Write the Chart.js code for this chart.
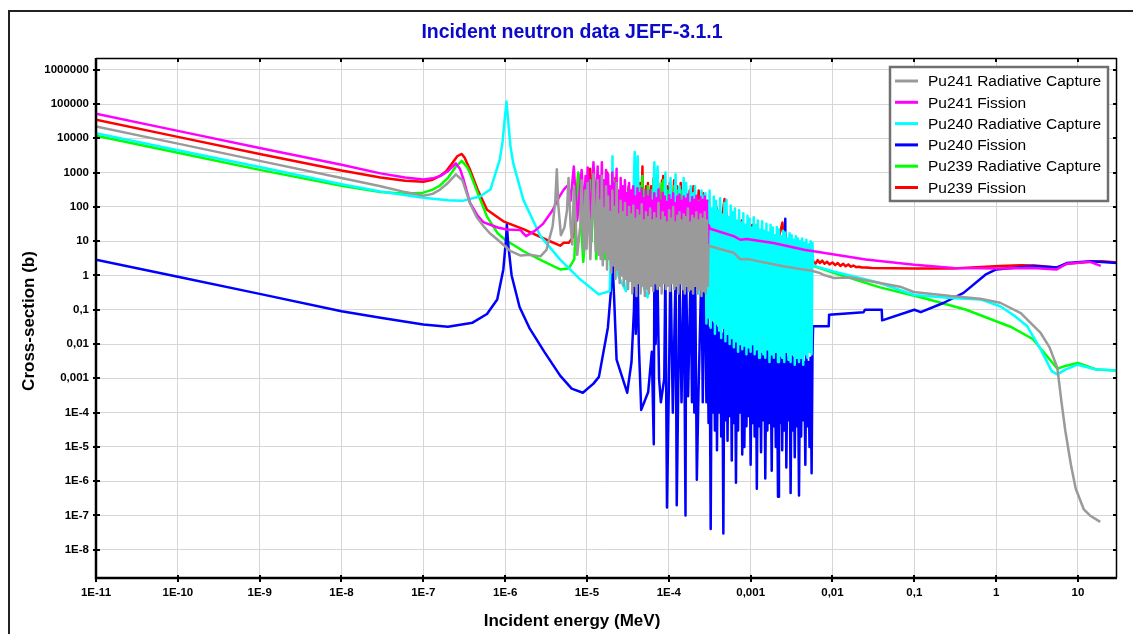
<!DOCTYPE html>
<html>
<head>
<meta charset="utf-8">
<script src="https://cdn.jsdelivr.net/npm/chart.js@4.4.1/dist/chart.umd.min.js"></script>
<style>
  html, body { margin: 0; padding: 0; background: #fff; overflow: hidden; }
  #wrap { position: relative; width: 1133px; height: 634px; }
</style>
</head>
<body>
<div id="wrap"><canvas id="xs"></canvas></div>
<script>
// Incident neutron data JEFF-3.1.1 - cross sections (b) vs energy (MeV)

const chartTitle = 'Incident neutron data JEFF-3.1.1';
const xTitle = 'Incident energy (MeV)';
const yTitle = 'Cross-section (b)';
const xTicks = [1e-11, 1e-10, 1e-9, 1e-8, 1e-7, 1e-6, 1e-5, 1e-4, 1e-3, 1e-2, 1e-1, 1, 10];
const yTicks = [1e-8, 1e-7, 1e-6, 1e-5, 1e-4, 1e-3, 1e-2, 1e-1, 1, 10, 100, 1000, 10000, 100000, 1000000];
const seriesLabels = ['Pu241 Radiative Capture', 'Pu241 Fission', 'Pu240 Radiative Capture',
  'Pu240 Fission', 'Pu239 Radiative Capture', 'Pu239 Fission'];
const seriesColors = ['#9a9a9a', '#ff00ff', '#00ffff', '#0000ff', '#00ff00', '#ff0000'];

// shared energy grid, Pu241 resolved resonances (13.5 eV - 300 eV)
const gridA = [1.35e-5, 1.39e-5, 1.43e-5, 1.47e-5, 1.52e-5, 1.56e-5, 1.61e-5, 1.66e-5, 1.71e-5, 1.76e-5,
  1.81e-5, 1.87e-5, 1.92e-5, 1.98e-5, 2.04e-5, 2.10e-5, 2.16e-5, 2.23e-5, 2.30e-5, 2.36e-5,
  2.44e-5, 2.51e-5, 2.58e-5, 2.66e-5, 2.74e-5, 2.82e-5, 2.91e-5, 3.00e-5, 3.09e-5, 3.18e-5,
  3.27e-5, 3.37e-5, 3.47e-5, 3.58e-5, 3.68e-5, 3.79e-5, 3.91e-5, 4.02e-5, 4.14e-5, 4.27e-5,
  4.40e-5, 4.53e-5, 4.66e-5, 4.80e-5, 4.95e-5, 5.10e-5, 5.25e-5, 5.41e-5, 5.57e-5, 5.73e-5,
  5.91e-5, 6.08e-5, 6.27e-5, 6.45e-5, 6.65e-5, 6.85e-5, 7.05e-5, 7.26e-5, 7.48e-5, 7.71e-5,
  7.94e-5, 8.18e-5, 8.42e-5, 8.67e-5, 8.93e-5, 9.20e-5, 9.48e-5, 9.76e-5, 1.01e-4, 1.04e-4,
  1.07e-4, 1.10e-4, 1.13e-4, 1.17e-4, 1.20e-4, 1.24e-4, 1.27e-4, 1.31e-4, 1.35e-4, 1.39e-4,
  1.43e-4, 1.48e-4, 1.52e-4, 1.57e-4, 1.61e-4, 1.66e-4, 1.71e-4, 1.76e-4, 1.82e-4, 1.87e-4,
  1.93e-4, 1.98e-4, 2.04e-4, 2.10e-4, 2.17e-4, 2.23e-4, 2.30e-4, 2.37e-4, 2.44e-4, 2.51e-4,
  2.59e-4, 2.67e-4, 2.75e-4, 2.83e-4, 2.91e-4, 3.00e-4];

// shared energy grid, Pu240 resolved resonances (280 eV - 5.7 keV)
const gridB = [2.80e-4, 2.88e-4, 2.97e-4, 3.06e-4, 3.15e-4, 3.25e-4, 3.35e-4, 3.45e-4, 3.55e-4, 3.66e-4,
  3.77e-4, 3.88e-4, 4.00e-4, 4.12e-4, 4.24e-4, 4.37e-4, 4.50e-4, 4.64e-4, 4.78e-4, 4.92e-4,
  5.07e-4, 5.22e-4, 5.38e-4, 5.54e-4, 5.71e-4, 5.88e-4, 6.06e-4, 6.24e-4, 6.43e-4, 6.62e-4,
  6.82e-4, 7.02e-4, 7.23e-4, 7.45e-4, 7.67e-4, 7.90e-4, 8.14e-4, 8.38e-4, 8.63e-4, 8.89e-4,
  9.16e-4, 9.43e-4, 9.71e-4, 1.00e-3, 1.03e-3, 1.06e-3, 1.09e-3, 1.12e-3, 1.16e-3, 1.19e-3,
  1.23e-3, 1.27e-3, 1.30e-3, 1.34e-3, 1.38e-3, 1.43e-3, 1.47e-3, 1.51e-3, 1.56e-3, 1.60e-3,
  1.65e-3, 1.70e-3, 1.75e-3, 1.81e-3, 1.86e-3, 1.92e-3, 1.97e-3, 2.03e-3, 2.09e-3, 2.16e-3,
  2.22e-3, 2.29e-3, 2.36e-3, 2.43e-3, 2.50e-3, 2.58e-3, 2.65e-3, 2.73e-3, 2.82e-3, 2.90e-3,
  2.99e-3, 3.08e-3, 3.17e-3, 3.27e-3, 3.36e-3, 3.46e-3, 3.57e-3, 3.67e-3, 3.78e-3, 3.90e-3,
  4.02e-3, 4.14e-3, 4.26e-3, 4.39e-3, 4.52e-3, 4.66e-3, 4.80e-3, 4.94e-3, 5.09e-3, 5.24e-3,
  5.40e-3, 5.56e-3, 5.70e-3];

// Pu239 resonance energies (6 eV - 5 keV)
const pu239ResE = [6.0e-6, 7.0e-6, 7.82e-6, 9.0e-6, 1.093e-5, 1.14e-5, 1.189e-5, 1.3e-5, 1.43e-5, 1.45e-5,
  1.468e-5, 1.5e-5, 1.546e-5, 1.65e-5, 1.766e-5, 1.95e-5, 2.229e-5, 2.4e-5, 2.62e-5, 2.9e-5,
  3.23e-5, 3.4e-5, 3.55e-5, 3.85e-5, 4.14e-5, 4.3e-5, 4.45e-5, 4.6e-5, 4.76e-5, 4.88e-5,
  4.97e-5, 5.1e-5, 5.26e-5, 5.4e-5, 5.56e-5, 5.65e-5, 5.74e-5, 5.9e-5, 6.09e-5, 6.3e-5,
  6.54e-5, 7.0e-5, 7.4e-5, 7.8e-5, 8.26e-5, 8.4e-5, 8.54e-5, 8.8e-5, 9.07e-5, 9.3e-5,
  9.53e-5, 1.0e-4, 1.03e-4, 1.1e-4, 1.16e-4, 1.22e-4, 1.26e-4, 1.33e-4, 1.4e-4, 1.48e-4,
  1.58e-4, 1.68e-4, 1.8e-4, 1.9e-4, 2.0e-4, 2.15e-4, 2.32e-4, 2.45e-4, 2.62e-4, 2.8e-4,
  3.0e-4, 3.3e-4, 3.8e-4, 4.2e-4, 4.8e-4, 5.4e-4, 6.0e-4, 6.8e-4, 7.8e-4, 9.0e-4,
  1.05e-3, 1.2e-3, 1.4e-3, 1.6e-3, 1.85e-3, 2.1e-3, 2.45e-3, 2.6e-3, 3.5e-3, 5.0e-3];

// ---- Pu241 radiative capture (gray)
const grayLoE = [1e-11, 1e-10, 1e-9, 1e-8, 3e-8, 6e-8, 1e-7, 1.3e-7, 1.6e-7, 2.0e-7,
  2.5e-7, 3.0e-7, 3.7e-7, 4.5e-7, 5.4e-7, 6.5e-7, 8.1e-7, 1.17e-6, 1.55e-6, 2.0e-6,
  2.7e-6, 3.2e-6, 3.8e-6, 4.1e-6, 4.28e-6, 4.45e-6, 4.8e-6, 5.3e-6, 5.7e-6, 5.95e-6,
  6.3e-6, 6.6e-6, 6.93e-6, 7.6e-6, 8.3e-6, 8.6e-6, 9.2e-6, 9.57e-6, 9.9e-6, 1.02e-5,
  1.1e-5, 1.2e-5, 1.28e-5];
const grayLoXS = [22000, 7000, 2200, 700, 400, 270, 210, 240, 320, 500,
  890, 600, 130, 50, 28, 17, 11, 5.1, 3.8, 4,
  3.6, 5.6, 27, 150, 1250, 120, 15, 25, 80, 700,
  30, 8, 400, 4, 30, 600, 5, 300, 6, 500,
  3, 900, 5];
const grayA = [600, 4, 150, 3, 800, 2, 90, 5, 400, 1.5,
  200, 3, 70, 1.2, 300, 2, 100, 0.8, 500, 1.5,
  60, 0.6, 150, 1, 70, 0.5, 130, 0.8, 50, 0.4,
  100, 0.7, 60, 0.3, 110, 0.5, 45, 0.25, 80, 0.6,
  55, 0.3, 120, 0.5, 40, 0.25, 70, 0.4, 50, 0.3,
  90, 0.5, 40, 0.35, 65, 0.6, 45, 0.4, 130, 0.5,
  40, 0.3, 70, 0.6, 50, 0.4, 35, 0.5, 80, 0.35,
  45, 0.6, 100, 0.4, 35, 0.5, 55, 0.3, 70, 0.6,
  40, 0.4, 60, 0.3, 50, 0.5, 90, 0.35, 35, 0.4,
  55, 0.3, 45, 0.5, 70, 0.3, 40, 0.4, 60, 0.25,
  45, 0.35, 70, 0.3, 40, 0.5];
const grayHiE = [3.05e-4, 3.2e-4, 6.2e-4, 7.5e-4, 9.3e-4, 2.5e-3, 4.0e-3, 5.4e-3, 7.1e-3, 7.7e-3,
  1.03e-2, 1.65e-2, 3.8e-2, 6.7e-2, 9.8e-2, 0.28, 0.64, 1.12, 2.0, 3.5,
  4.5, 5.6, 6.3, 7.0, 8.2, 9.4, 11.8, 14, 18.7];
const grayHiXS = [7.5, 7.1, 4.6, 2.95, 3.0, 1.86, 1.55, 1.4, 1.17, 1.05,
  0.85, 0.87, 0.6, 0.47, 0.33, 0.25, 0.21, 0.16, 0.08, 0.021,
  0.008, 0.002, 2e-4, 3e-5, 3e-6, 6e-7, 1.5e-7, 1e-7, 6.5e-8];

// ---- Pu241 fission (magenta)
const magLoE = [1e-11, 1e-10, 1e-9, 1e-8, 3e-8, 6e-8, 1e-7, 1.3e-7, 1.6e-7, 2.0e-7,
  2.5e-7, 2.8e-7, 3.1e-7, 3.7e-7, 4.6e-7, 5.4e-7, 8.1e-7, 1.05e-6, 1.55e-6, 1.7e-6,
  1.8e-6, 2.3e-6, 2.9e-6, 3.8e-6, 4.6e-6, 5.2e-6, 5.9e-6, 6.3e-6, 6.9e-6, 7.6e-6,
  8.6e-6, 9.2e-6, 9.6e-6, 9.9e-6, 1.02e-5, 1.1e-5, 1.2e-5, 1.28e-5];
const magLoXS = [52000, 16500, 5200, 1700, 950, 720, 630, 680, 790, 1100,
  1850, 1300, 630, 135, 56, 36, 25, 22, 21, 16,
  14, 20, 32, 80, 200, 320, 440, 150, 1500, 40,
  1200, 60, 800, 100, 1400, 50, 2000, 80];
const magA = [1500, 20, 800, 15, 2000, 10, 600, 20, 1200, 8,
  900, 15, 400, 6, 1000, 12, 500, 5, 1300, 10,
  300, 5, 700, 8, 400, 4, 600, 6, 250, 4,
  500, 6, 300, 3, 400, 5, 200, 3, 350, 5,
  250, 3, 350, 5, 180, 3, 300, 4, 200, 3,
  300, 5, 150, 3, 250, 5, 180, 4, 320, 5,
  150, 3, 260, 5, 200, 4, 140, 5, 220, 3,
  160, 5, 250, 4, 130, 5, 200, 3, 230, 5,
  150, 4, 200, 3, 170, 5, 230, 3, 130, 4,
  190, 3, 160, 5, 210, 3, 140, 4, 190, 3,
  160, 4, 200, 3, 150, 5];
const magHiE = [3.05e-4, 3.2e-4, 6.2e-4, 7.5e-4, 8.9e-4, 1.9e-3, 4.5e-3, 7.7e-3, 2.55e-2, 0.1,
  0.3, 1.1, 2.8, 5.5, 7.3, 14, 19];
const magHiXS = [30, 23, 14, 11, 11.5, 8.9, 5.6, 4.6, 2.9, 2.05,
  1.65, 1.6, 1.65, 1.5, 2.2, 2.5, 1.9];

// ---- Pu240 radiative capture (cyan)
const cyanLoE = [1e-11, 1e-10, 1e-9, 1e-8, 3e-8, 1e-7, 2e-7, 3e-7, 4.9e-7, 6.6e-7,
  8.6e-7, 9.3e-7, 9.8e-7, 1.04e-6, 1.1e-6, 1.16e-6, 1.25e-6, 1.67e-6, 2.7e-6, 4.7e-6,
  8.3e-6, 1.4e-5, 1.9e-5, 2.0e-5, 2.05e-5, 2.1e-5, 2.4e-5, 3.0e-5, 3.6e-5, 3.83e-5,
  3.98e-5, 4.16e-5, 4.4e-5, 5.0e-5, 5.5e-5, 6.2e-5, 6.66e-5, 6.95e-5, 7.28e-5, 7.8e-5,
  8.4e-5, 9.08e-5, 9.6e-5, 1.05e-4, 1.12e-4, 1.21e-4, 1.28e-4, 1.35e-4, 1.43e-4, 1.52e-4,
  1.58e-4, 1.63e-4, 1.74e-4, 1.85e-4, 1.92e-4, 1.99e-4, 2.04e-4, 2.09e-4, 2.3e-4, 2.51e-4,
  2.62e-4, 2.7e-4];
const cyanLoXS = [14000, 4500, 1450, 460, 280, 185, 155, 150, 200, 320,
  2400, 8000, 30000, 118000, 25000, 6000, 1950, 160, 14, 2.9,
  0.76, 0.28, 0.35, 30, 3000, 30, 1.0, 0.35, 20, 4000,
  60, 3000, 5, 0.4, 0.23, 3, 2000, 20, 1500, 3,
  0.6, 1000, 1.5, 700, 1, 900, 0.8, 400, 0.7, 700,
  1.0, 500, 0.5, 400, 2, 250, 3, 400, 0.3, 300,
  1, 200];
const cyanB = [250, 0.04, 120, 0.06, 300, 0.03, 90, 0.05, 200, 0.02,
  150, 0.04, 80, 0.025, 180, 0.015, 60, 0.03, 130, 0.012,
  160, 0.02, 50, 0.01, 110, 0.015, 70, 0.008, 90, 0.012,
  40, 0.006, 80, 0.01, 35, 0.007, 65, 0.009, 30, 0.005,
  55, 0.008, 45, 0.006, 25, 0.01, 50, 0.005, 30, 0.007,
  40, 0.004, 22, 0.006, 38, 0.005, 20, 0.004, 32, 0.007,
  18, 0.003, 30, 0.005, 25, 0.004, 15, 0.006, 26, 0.003,
  22, 0.005, 14, 0.004, 20, 0.003, 18, 0.006, 12, 0.0035,
  17, 0.003, 15, 0.005, 11, 0.0025, 14, 0.004, 12, 0.003,
  10, 0.004, 12, 0.0025, 9, 0.005, 11, 0.004, 8, 0.006,
  10, 0.005, 9];
const cyanHiE = [5.8e-3, 7.0e-3, 1.03e-2, 3.8e-2, 0.1, 0.28, 0.64, 1.12, 1.7, 2.4,
  3.5, 4.8, 5.6, 7.0, 9.9, 16.7, 30];
const cyanHiXS = [2.0, 1.7, 1.3, 0.6, 0.27, 0.22, 0.2, 0.126, 0.065, 0.033,
  0.007, 0.0016, 0.0013, 0.0018, 0.0025, 0.0018, 0.0017];

// ---- Pu240 fission (blue)
const blueLoE = [1e-11, 1e-10, 1e-9, 1e-8, 3e-8, 1e-7, 2e-7, 4e-7, 6e-7, 8e-7,
  9.5e-7, 1.02e-6, 1.05e-6, 1.09e-6, 1.2e-6, 1.5e-6, 2.0e-6, 3.0e-6, 4.7e-6, 6.5e-6,
  8.9e-6, 1.2e-5, 1.4e-5, 1.8e-5, 1.95e-5, 2.05e-5, 2.15e-5, 2.3e-5, 3.1e-5, 3.5e-5,
  3.75e-5, 3.83e-5, 3.95e-5, 4.16e-5, 4.3e-5, 4.6e-5, 5.6e-5, 6.2e-5, 6.55e-5, 6.66e-5,
  6.9e-5, 7.28e-5, 7.6e-5, 8.0e-5, 8.8e-5, 9.08e-5, 9.5e-5, 1.0e-4, 1.05e-4, 1.12e-4,
  1.21e-4, 1.25e-4, 1.3e-4, 1.35e-4, 1.43e-4, 1.52e-4, 1.56e-4, 1.60e-4, 1.63e-4, 1.72e-4,
  1.85e-4, 1.92e-4, 1.99e-4, 2.05e-4, 2.1e-4, 2.2e-4, 2.3e-4, 2.51e-4, 2.6e-4, 2.7e-4];
const blueLoXS = [2.9, 0.92, 0.29, 0.09, 0.058, 0.037, 0.032, 0.042, 0.075, 0.2,
  1.5, 10, 30, 8, 1.0, 0.12, 0.028, 0.006, 1.2e-3, 5e-4,
  3.8e-4, 7e-4, 1.1e-3, 0.03, 0.3, 2.5, 0.2, 0.0035, 3.8e-4, 0.003,
  0.1, 1.5, 0.02, 1.2, 0.01, 1.2e-4, 4e-4, 0.006, 1.2e-5, 1.5,
  0.01, 0.8, 1e-3, 2e-4, 1e-3, 2, 1.7e-7, 5e-4, 1.5, 1e-4,
  1.2, 2e-7, 3e-4, 1, 2e-4, 2, 5e-4, 1e-7, 1, 3e-4,
  1.5, 2e-4, 0.8, 1e-4, 1, 1.1e-6, 3e-4, 2, 2e-4, 1.5];
const blueB = [0.05, 2e-4, 0.08, 5e-5, 0.03, 4e-8, 0.06, 1e-4, 0.04, 3e-5,
  0.07, 8e-6, 0.03, 1e-4, 0.05, 2e-5, 0.02, 3e-8, 0.04, 6e-5,
  0.03, 1.5e-5, 0.05, 8e-5, 0.02, 4e-6, 0.04, 5e-5, 0.015, 9e-7,
  0.03, 3e-5, 0.02, 1e-4, 0.012, 6e-6, 0.025, 1e-5, 0.01, 4e-5,
  0.02, 8e-5, 0.015, 3e-6, 0.01, 5e-5, 0.018, 2e-5, 0.008, 6e-7,
  0.015, 4e-5, 0.01, 7e-6, 0.012, 6e-5, 0.007, 1.2e-6, 0.012, 3e-5,
  0.006, 5e-5, 0.01, 2e-6, 0.008, 4e-5, 0.005, 1e-5, 0.009, 3.5e-7,
  0.007, 5e-5, 0.004, 8e-6, 0.008, 3e-5, 45, 2.5e-6, 0.004, 6e-5,
  0.007, 4.5e-7, 0.005, 3e-5, 0.004, 5e-6, 0.006, 4e-5, 0.004, 3.8e-7,
  0.005, 2e-5, 0.004, 6e-5, 0.003, 3e-6, 0.005, 4e-5, 0.003, 1e-5,
  0.004, 1.7e-6, 0.005];
const blueHiE = [5.8e-3, 9.0e-3, 9.1e-3, 2.4e-2, 2.5e-2, 4.0e-2, 4.05e-2, 0.1, 0.12, 0.23,
  0.4, 0.74, 1.0, 2.8, 5.5, 7.3, 14.4, 30];
const blueHiXS = [0.033, 0.033, 0.072, 0.085, 0.1, 0.1, 0.049, 0.1, 0.085, 0.16,
  0.31, 1.05, 1.5, 1.9, 1.7, 2.3, 2.6, 2.3];

// ---- Pu239 radiative capture (green)
const greenLoE = [1e-11, 1e-10, 1e-9, 1e-8, 3e-8, 6e-8, 1e-7, 1.3e-7, 1.6e-7, 2.0e-7,
  2.5e-7, 2.95e-7, 3.4e-7, 3.7e-7, 4.6e-7, 6.0e-7, 8.1e-7, 1.0e-6, 1.7e-6, 2.9e-6, 4.7e-6];
const greenLoXS = [12000, 3800, 1200, 410, 270, 240, 260, 320, 420, 700,
  1500, 2200, 1500, 1000, 260, 52, 17, 11, 5, 2.6, 1.5];
const greenRes = [1.6, 3, 1000, 2.5, 600, 10, 900, 3, 400, 30,
  500, 20, 200, 3, 400, 2, 600, 3, 250, 2.5,
  300, 8, 200, 3, 700, 10, 400, 10, 800, 15,
  300, 15, 250, 10, 400, 20, 300, 10, 300, 8,
  600, 4, 400, 6, 500, 10, 600, 8, 200, 6,
  300, 5, 300, 6, 400, 6, 300, 5, 300, 5,
  200, 5, 200, 5, 200, 4, 150, 4, 150, 4,
  100, 3, 60, 3, 80, 3, 30, 2, 25, 2,
  15, 2, 12, 1.5, 10, 1.5, 12, 2.0, 2.0, 2.0];
const greenHiE = [5.8e-3, 1.03e-2, 3.8e-2, 0.14, 0.43, 1.5, 2.8, 4.5, 5.6, 7.0, 9.9, 12, 17, 30];
const greenHiXS = [1.9, 1.2, 0.45, 0.21, 0.1, 0.032, 0.014, 0.0036, 0.0019, 0.0023, 0.0028, 0.0024, 0.0018, 0.0017];

// ---- Pu239 fission (red)
const redLoE = [1e-11, 1e-10, 1e-9, 1e-8, 3e-8, 6e-8, 1e-7, 1.3e-7, 1.6e-7, 1.9e-7,
  2.3e-7, 2.6e-7, 2.95e-7, 3.2e-7, 3.7e-7, 4.6e-7, 6.0e-7, 9.5e-7, 1.7e-6, 3.2e-6,
  4.7e-6, 5.2e-6];
const redLoXS = [35000, 11000, 3500, 1150, 720, 580, 540, 620, 800, 1100,
  2000, 3000, 3500, 2700, 1250, 320, 83, 38, 22, 11,
  7.4, 9];
const redRes = [9, 15, 900, 12, 1300, 40, 900, 15, 600, 60,
  400, 50, 300, 15, 1000, 12, 700, 15, 300, 15,
  400, 30, 300, 20, 600, 40, 500, 40, 1500, 50,
  300, 60, 400, 40, 500, 60, 300, 40, 400, 30,
  700, 20, 500, 30, 600, 40, 800, 30, 300, 30,
  400, 25, 500, 30, 600, 30, 400, 30, 500, 25,
  400, 25, 300, 25, 400, 20, 300, 20, 250, 20,
  150, 15, 100, 15, 170, 15, 50, 12, 40, 12,
  30, 10, 20, 8, 15, 8, 35, 5, 3.5, 3.0];
const redHiE = [5.8e-3, 6.2e-3, 6.6e-3, 7.0e-3, 7.5e-3, 8.0e-3, 8.6e-3, 9.2e-3, 1.0e-2, 1.08e-2,
  1.16e-2, 1.25e-2, 1.35e-2, 1.45e-2, 1.56e-2, 1.68e-2, 1.8e-2, 1.95e-2, 2.1e-2, 2.3e-2,
  2.6e-2, 3.0e-2, 0.1, 0.3, 1.1, 2.0, 3.0, 5.5, 7.3, 14,
  20, 30];
const redHiXS = [2.6, 2.2, 2.8, 2.3, 2.7, 2.2, 2.5, 2.1, 2.4, 2.0,
  2.3, 1.9, 2.2, 1.85, 2.1, 1.8, 1.95, 1.75, 1.8, 1.7,
  1.7, 1.65, 1.6, 1.6, 1.9, 2.0, 1.95, 1.7, 2.2, 2.5,
  2.6, 2.4];

// energy/value arrays -> {x, y}
function pts(es, vs) {
  return es.map((e, i) => ({ x: e, y: vs[i] }));
}

// tick label: 1000, 0,1, 0,01, 0,001, 1E-4 ...
function fmtTick(v) {
  const p = Math.round(Math.log10(v));
  if (p >= 0) return String(Math.round(Math.pow(10, p)));
  if (p >= -3) return '0,' + '0'.repeat(-p - 1) + '1';
  return '1E' + p;
}

const FONT = 'Arial, "Liberation Sans", sans-serif';

// title, axis titles, frame, ticks and boxed legend
const decorPlugin = {
  id: 'decor',
  afterDraw(chart) {
    const { ctx, chartArea: a, scales } = chart;
    ctx.save();

    // outer frame (top and left edges only are in view)
    ctx.strokeStyle = '#222';
    ctx.lineWidth = 2;
    ctx.beginPath();
    ctx.moveTo(9, 640);
    ctx.lineTo(9, 11);
    ctx.lineTo(1140, 11);
    ctx.stroke();

    // titles
    ctx.fillStyle = '#0a0ac8';
    ctx.font = 'bold 19.5px ' + FONT;
    ctx.textAlign = 'center';
    ctx.textBaseline = 'middle';
    ctx.fillText(chartTitle, 572, 33);

    ctx.fillStyle = '#000';
    ctx.font = 'bold 17px ' + FONT;
    ctx.fillText(xTitle, 572, 621);
    ctx.save();
    ctx.translate(29, (a.top + a.bottom) / 2 + 3);
    ctx.rotate(-Math.PI / 2);
    ctx.fillText(yTitle, 0, 0);
    ctx.restore();

    // plot frame
    ctx.strokeStyle = '#000';
    ctx.lineWidth = 1.5;
    ctx.beginPath();
    ctx.moveTo(a.left, a.top + 0.5);
    ctx.lineTo(a.right, a.top + 0.5);
    ctx.moveTo(a.right - 0.5, a.top);
    ctx.lineTo(a.right - 0.5, a.bottom);
    ctx.stroke();
    ctx.lineWidth = 2.5;
    ctx.beginPath();
    ctx.moveTo(a.left, a.top);
    ctx.lineTo(a.left, a.bottom);
    ctx.lineTo(a.right, a.bottom);
    ctx.stroke();

    // tick marks
    ctx.lineWidth = 2;
    ctx.beginPath();
    xTicks.forEach(v => {
      const x = Math.round(scales.x.getPixelForValue(v));
      ctx.moveTo(x, a.bottom - 3); ctx.lineTo(x, a.bottom + 4);
      ctx.moveTo(x, a.top); ctx.lineTo(x, a.top + 4);
    });
    yTicks.forEach(v => {
      const y = Math.round(scales.y.getPixelForValue(v));
      ctx.moveTo(a.left - 3, y); ctx.lineTo(a.left + 4, y);
      ctx.moveTo(a.right, y); ctx.lineTo(a.right - 4, y);
    });
    ctx.stroke();

    // legend box
    const lx = 890, ly = 67, lw = 218, lh = 134;
    ctx.fillStyle = '#fff';
    ctx.fillRect(lx, ly, lw, lh);
    ctx.strokeStyle = '#707070';
    ctx.lineWidth = 2.5;
    ctx.strokeRect(lx, ly, lw, lh);
    ctx.font = '15.5px ' + FONT;
    ctx.textAlign = 'left';
    ctx.textBaseline = 'middle';
    chart.data.datasets.forEach((ds, i) => {
      const y = 81 + i * 21.3;
      ctx.strokeStyle = ds.borderColor;
      ctx.lineWidth = 3;
      ctx.beginPath();
      ctx.moveTo(895, y);
      ctx.lineTo(918, y);
      ctx.stroke();
      ctx.fillStyle = '#000';
      ctx.fillText(ds.label, 928, y + 1);
    });

    ctx.restore();
  }
};

function renderChart(canvas) {
  const series = [
    [...pts(grayLoE, grayLoXS), ...pts(gridA, grayA), ...pts(grayHiE, grayHiXS)],
    [...pts(magLoE, magLoXS), ...pts(gridA, magA), ...pts(magHiE, magHiXS)],
    [...pts(cyanLoE, cyanLoXS), ...pts(gridB, cyanB), ...pts(cyanHiE, cyanHiXS)],
    [...pts(blueLoE, blueLoXS), ...pts(gridB, blueB), ...pts(blueHiE, blueHiXS)],
    [...pts(greenLoE, greenLoXS), ...pts(pu239ResE, greenRes), ...pts(greenHiE, greenHiXS)],
    [...pts(redLoE, redLoXS), ...pts(pu239ResE, redRes), ...pts(redHiE, redHiXS)],
  ];

  // first dataset is drawn on top
  const datasets = series.map((data, i) => ({
    label: seriesLabels[i],
    data,
    borderColor: seriesColors[i],
    backgroundColor: seriesColors[i],
    borderWidth: 2.5,
    borderJoinStyle: 'round',
    pointRadius: 0,
    tension: 0,
    fill: false,
  }));

  const tickFont = { family: FONT, size: 11.5, weight: 'bold' };

  return new Chart(canvas.getContext('2d'), {
    type: 'line',
    data: { datasets },
    options: {
      responsive: true,
      maintainAspectRatio: false,
      animation: false,
      layout: { padding: { left: 0, top: 58, right: 16, bottom: 0 } },
      plugins: {
        legend: { display: false },
        title: { display: false },
        tooltip: { enabled: false },
      },
      scales: {
        x: {
          type: 'logarithmic',
          min: 1e-11,
          max: 30,
          border: { display: false },
          grid: { color: '#d6d6d6', lineWidth: 1, drawTicks: false },
          afterBuildTicks: s => { s.ticks = xTicks.map(v => ({ value: v })); },
          afterFit: s => { s.height = 56; },
          ticks: {
            autoSkip: false,
            maxRotation: 0,
            padding: 8,
            color: '#000',
            font: tickFont,
            callback: v => fmtTick(v),
          },
        },
        y: {
          type: 'logarithmic',
          min: 1.5e-9,
          max: 2.2e6,
          border: { display: false },
          grid: { color: '#d6d6d6', lineWidth: 1, drawTicks: false },
          afterBuildTicks: s => { s.ticks = yTicks.map(v => ({ value: v })); },
          afterFit: s => { s.width = 96; },
          ticks: {
            autoSkip: false,
            padding: 7,
            color: '#000',
            font: tickFont,
            callback: v => fmtTick(v),
          },
        },
      },
    },
    plugins: [decorPlugin],
  });
}

renderChart(document.getElementById('xs'));
</script>
</body>
</html>
